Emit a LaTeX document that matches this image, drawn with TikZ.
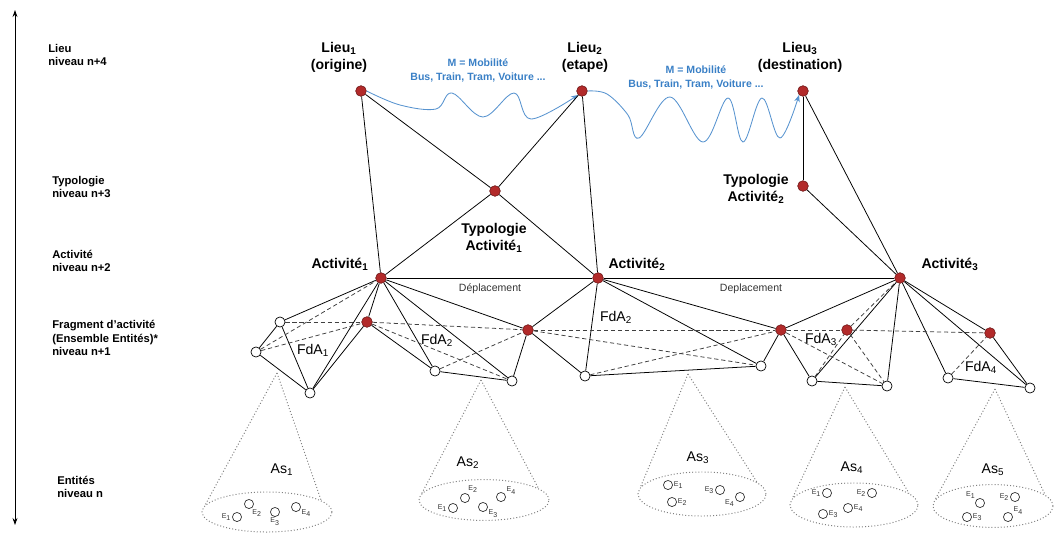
\documentclass[tikz,border=0pt]{standalone}
\usepackage{fontspec}
\setmainfont{Liberation Sans}
\usetikzlibrary{arrows.meta, shapes.geometric}

\definecolor{dotred}{RGB}{178,42,42}
\definecolor{dotedge}{RGB}{105,20,20}
\definecolor{mobblue}{RGB}{58,128,198}

\begin{document}
\begin{tikzpicture}[x=0.025cm, y=-0.025cm,
  lvl/.style={anchor=west, align=left, inner sep=0pt, font=\fontsize{8}{9.5}\selectfont\bfseries},
  rdot/.style={circle, draw=dotedge, fill=dotred, line width=0.4pt, minimum size=7.6pt, inner sep=0pt},
  wdot/.style={circle, draw=black, fill=white, line width=0.5pt, minimum size=7.2pt, inner sep=0pt},
  ent/.style={circle, draw=black!80, line width=0.5pt, minimum size=6.5pt, inner sep=0pt},
  elbl/.style={font=\fontsize{5}{6}\selectfont, inner sep=0.5pt, text=black!80},
  big/.style={align=center, font=\fontsize{10}{12}\selectfont\bfseries, inner sep=0pt},
  mob/.style={-{Stealth[length=5pt, width=4pt]}, mobblue!85, line width=0.6pt},
  mobtxt/.style={align=center, text=mobblue, font=\fontsize{7.5}{10}\selectfont\bfseries, inner sep=0pt},
  sol/.style={line width=0.55pt},
  dsh/.style={line width=0.55pt, black!75, dash pattern=on 3pt off 2pt},
  cone/.style={gray, line width=0.7pt, dash pattern=on 0.7pt off 1.5pt},
  bowl/.style={ellipse, draw, cone, inner sep=0pt},
  fda/.style={font=\fontsize{10}{12}\selectfont, inner sep=0pt},
  depl/.style={font=\fontsize{7.5}{9}\selectfont, text=black!80, inner sep=0pt},
]
\useasboundingbox (0,0) rectangle (1055,535);

%% Level axis
\coordinate (axtop) at (15,10);
\coordinate (axbot) at (15,525);
\draw[{Stealth[length=5pt, width=3.5pt]}-{Stealth[length=5pt, width=3.5pt]}, line width=0.6pt] (axbot) -- (axtop);

\node[lvl] (lv4) at (48,55) {Lieu\\niveau n+4};
\node[lvl] (lv3) at (52,187) {Typologie\\niveau n+3};
\node[lvl] (lv2) at (52,261) {Activité\\niveau n+2};
\node[lvl] (lv1) at (52,338) {Fragment d'activité\\(Ensemble Entités)*\\niveau n+1};
\node[lvl] (lv0) at (57,487) {Entités\\niveau n};

%% Lieux
\node[rdot] (L1) at (361,91) {};
\node[rdot] (L2) at (582,91) {};
\node[rdot] (L3) at (803,91) {};
\node[big] (L1t) at (339,57) {Lieu\textsubscript{1}\\(origine)};
\node[big] (L2t) at (585,57) {Lieu\textsubscript{2}\\(etape)};
\node[big] (L3t) at (800,57) {Lieu\textsubscript{3}\\(destination)};

%% Typologies
\node[rdot] (T1) at (495,191) {};
\node[rdot] (T2) at (803,186) {};
\node[big] (T1t) at (494,238) {Typologie\\Activité\textsubscript{1}};
\node[big] (T2t) at (756,189) {Typologie\\Activité\textsubscript{2}};

%% Activites
\node[rdot] (A1) at (381,278) {};
\node[rdot] (A2) at (598,278) {};
\node[rdot] (A3) at (900,278) {};
\node[big] (A1t) at (340,264) {Activité\textsubscript{1}};
\node[big] (A2t) at (637,264) {Activité\textsubscript{2}};
\node[big] (A3t) at (950,264) {Activité\textsubscript{3}};
\node[depl] (D1) at (490,289) {Déplacement};
\node[depl] (D2) at (751,289) {Deplacement};

%% Mobilite
\node[mobtxt] (M1) at (478,70) {M = Mobilité\\Bus, Train, Tram, Voiture ...};
\node[mobtxt] (M2) at (696,77) {M = Mobilité\\Bus, Train, Tram, Voiture ...};
\draw[mob] plot[smooth, tension=0.6] coordinates {(L1.east) (400,105) (436,109) (452,93) (483,117) (514,93) (531,119) (L2.south west)};
\draw[mob] plot[smooth, tension=0.6] coordinates {(L2.east) (607,94) (628,115) (639,138) (670,97) (703,142) (728,98) (743,142) (762,98) (780,138) (L3.south west)};

%% Fragments d'activite
\node[rdot] (r1) at (367,322) {};
\node[rdot] (r2) at (528,330) {};
\node[rdot] (r3) at (781,330) {};
\node[rdot] (r4) at (847,330) {};
\node[rdot] (r5) at (990,333) {};
\node[wdot] (w1) at (280,322) {};
\node[wdot] (w2) at (256,352) {};
\node[wdot] (w3) at (310,393) {};
\node[wdot] (w4) at (435,371) {};
\node[wdot] (w5) at (512,381) {};
\node[wdot] (w6) at (585,376) {};
\node[wdot] (w7) at (761,366) {};
\node[wdot] (w8) at (812,381) {};
\node[wdot] (w9) at (887,386) {};
\node[wdot] (w10) at (948,378) {};
\node[wdot] (w11) at (1030,388) {};

\node[fda] (F1) at (313,350) {FdA\textsubscript{1}};
\node[fda] (F2) at (437,340) {FdA\textsubscript{2}};
\node[fda] (F2b) at (616,317) {FdA\textsubscript{2}};
\node[fda] (F3) at (821,339) {FdA\textsubscript{3}};
\node[fda] (F4) at (981,367) {FdA\textsubscript{4}};

%% Links
\foreach \a/\b in {L1/A1, L1/T1, L2/T1, L2/A2, T1/A1, T1/A2, L3/T2, L3/A3, T2/A3, A1/A2, A2/A3}
  \draw[sol] (\a) -- (\b);
\foreach \a/\b in {A1/w1, A1/w3, A1/r1, A1/w4, A1/w5, A1/r2, r1/w3, r1/w4, w1/w2, w2/w3, w1/w3,
                   w4/w5, w5/r2, A2/r2, A2/w6, A2/w7, A2/r3, r2/w6, w6/w7, w7/r3,
                   A3/r3, A3/w8, A3/w9, A3/w10, A3/w11, A3/r5, r3/w8, w8/w9, r5/w11, w10/w11}
  \draw[sol] (\a) -- (\b);
\foreach \a/\b in {w1/r1, r1/r2, r2/r3, r3/r4, r4/r5, w2/r1, w2/A1, r1/w5, w4/r2,
                   r2/w7, w6/r3, r3/w9, w8/r4, r4/w9, r4/A3, w10/r5}
  \draw[dsh] (\a) -- (\b);

%% Ensembles d'entites
\foreach \n/\ax/\ay/\ex/\ey/\ew/\eh/\lx/\ly in {1/277/373/267/512/3.25/1.0/282/470,
    2/481/380/484/500/3.25/1.02/468/463, 3/688/374/702/494/3.2/1.1/698/458,
    4/845/387/854/505/3.2/1.1/852/468, 5/995/389/993/506/3.0/1.07/993/470} {
  \coordinate (c\n) at (\ax,\ay);
  \node[bowl, minimum width=\ew cm, minimum height=\eh cm] (s\n) at (\ex,\ey) {};
  \draw[cone] (c\n) -- (s\n.174);
  \draw[cone] (c\n) -- (s\n.12);
  \node[fda] (as\n) at (\lx,\ly) {As\textsubscript{\n}};
}

\foreach \x/\y/\p/\k [count=\i] in {237/517/180/1, 249/504/-60/2, 275/512/-90/3, 296/507/-20/4,
    453/508/180/1, 465/498/60/2, 483/507/-20/3, 501/497/20/4,
    668/485/0/1, 672/502/0/2, 720/490/180/3, 740/497/-160/4,
    827/493/180/1, 872/493/180/2, 823/514/0/3, 848/508/0/4,
    980/503/135/1, 1015/497/180/2, 967/517/0/3, 1008/517/20/4}
  \node[ent, label={[elbl]\p:E\textsubscript{\k}}] (e\i) at (\x,\y) {};

\end{tikzpicture}
\end{document}
